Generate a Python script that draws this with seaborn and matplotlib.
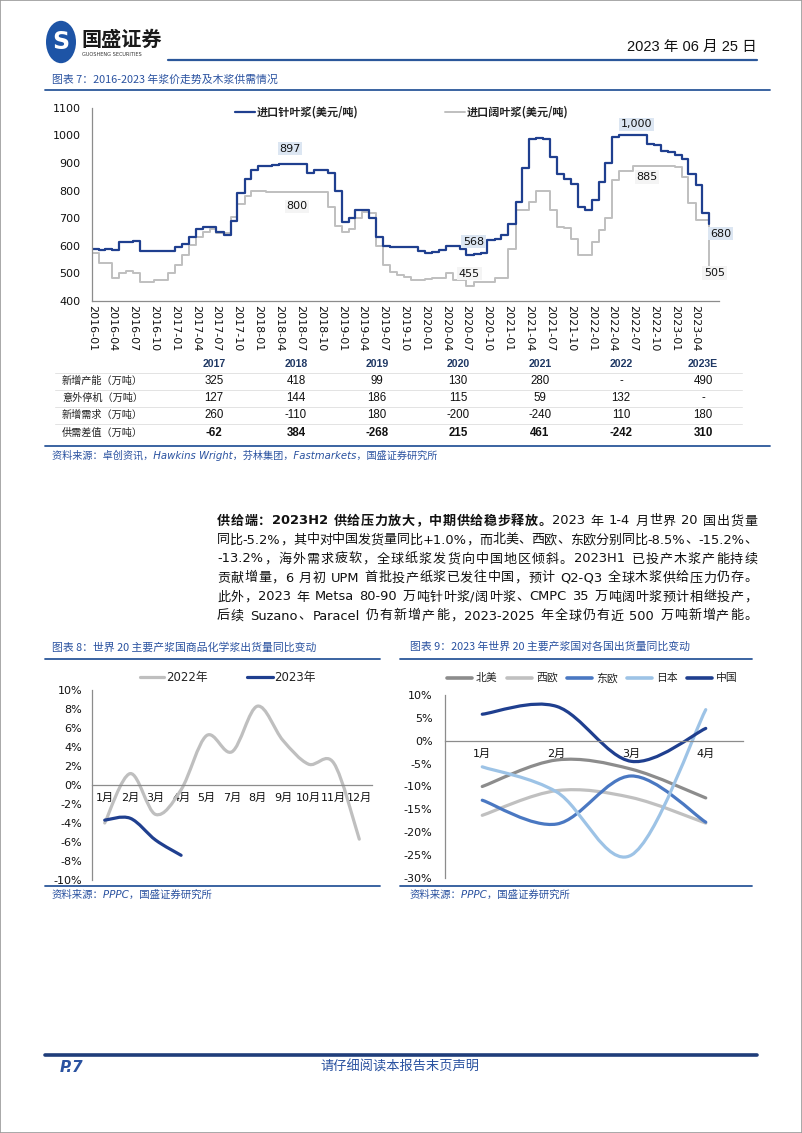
import numpy as np
import pandas as pd
import matplotlib
matplotlib.use("Agg")
import matplotlib.pyplot as plt
import seaborn as sns
from matplotlib.path import Path
from matplotlib.patches import PathPatch, Circle, Rectangle
from matplotlib.lines import Line2D

# ---------------- data ----------------
months = pd.date_range("2016-01-01", periods=90, freq="MS")
softwood = [590, 585, 587, 585, 612, 615, 618, 580, 580, 580, 580, 580,
            596, 605, 630, 660, 668, 668, 650, 640, 690, 790, 840, 875,
            888, 890, 893, 897, 897, 897, 897, 862, 874, 874, 862, 800,
            687, 700, 730, 730, 700, 630, 600, 596, 596, 596, 596, 580,
            575, 577, 584, 598, 600, 590, 568, 569, 575, 620, 626, 638,
            680, 760, 880, 985, 990, 985, 920, 860, 840, 825, 740, 730,
            765, 830, 900, 995, 1000, 1000, 1000, 1000, 970, 965, 945, 940,
            928, 915, 860, 820, 720, 680]
hardwood = [575, 537, 537, 482, 500, 508, 500, 470, 470, 475, 475, 500,
            530, 566, 602, 632, 650, 662, 648, 645, 705, 750, 780, 800,
            800, 793, 793, 793, 793, 793, 793, 793, 793, 793, 740, 670,
            651, 660, 700, 723, 720, 600, 530, 505, 495, 488, 476, 476,
            478, 482, 482, 500, 476, 476, 455, 468, 470, 470, 482, 485,
            590, 729, 729, 760, 799, 799, 730, 669, 663, 626, 566, 566,
            614, 657, 699, 838, 869, 870, 890, 890, 890, 890, 890, 890,
            885, 850, 754, 693, 693, 505]
series7_names = ["进口针叶浆(美元/吨)", "进口阔叶浆(美元/吨)"]
quarter_ticks = pd.date_range("2016-01-01", "2023-04-01", freq="QS")
# (series, month index, label text, offset px (dx, dy up))
ann7 = [("soft", 27, "897", (11, 15)), ("hard", 29, "800", (4, -14)),
        ("soft", 54, "568", (7, 13)), ("hard", 54, "455", (3, 12)),
        ("soft", 76, "1,000", (17, 11)), ("hard", 84, "885", (-28, -10)),
        ("soft", 89, "680", (11, -10)), ("hard", 89, "505", (5, -1))]

table_years = ["2017", "2018", "2019", "2020", "2021", "2022", "2023E"]
table_rows = ["新增产能（万吨）", "意外停机（万吨）", "新增需求（万吨）", "供需差值（万吨）"]
new_capacity = ["325", "418", "99", "130", "280", "-", "490"]
downtime = ["127", "144", "186", "115", "59", "132", "-"]
new_demand = ["260", "-110", "180", "-200", "-240", "110", "180"]
supply_gap = ["-62", "384", "-268", "215", "461", "-242", "310"]

cats8 = ["1月", "2月", "3月", "4月", "5月", "7月", "8月", "9月", "10月", "11月", "12月"]
y2022 = [-4.0, 1.2, -3.1, -0.5, 5.2, 3.5, 8.3, 4.7, 2.2, 2.3, -5.7]
y2023 = [-3.7, -3.5, -5.8, -7.4]

cats9 = ["1月", "2月", "3月", "4月"]
na = [-10.0, -4.2, -6.2, -12.5]
we = [-16.3, -10.9, -12.4, -18.0]
ee = [-13.0, -18.2, -7.7, -17.8]
jp = [-5.7, -11.2, -25.0, 6.8]
cn = [5.8, 7.5, -4.5, 2.7]
names9 = ["北美", "西欧", "东欧", "日本", "中国"]

para = [
    [("供给端：2023H2 供给压力放大，中期供给稳步释放。", True), ("2023 年 1-4 月世界 20 国出货量", False)],
    [("同比-5.2%，其中对中国发货量同比+1.0%，而北美、西欧、东欧分别同比-8.5%、-15.2%、", False)],
    [("-13.2%，海外需求疲软，全球纸浆发货向中国地区倾斜。2023H1 已投产木浆产能持续", False)],
    [("贡献增量，6 月初 UPM 首批投产纸浆已发往中国，预计 Q2-Q3 全球木浆供给压力仍存。", False)],
    [("此外，2023 年 Metsa 80-90 万吨针叶浆/阔叶浆、CMPC 35 万吨阔叶浆预计相继投产，", False)],
    [("后续 Suzano、Paracel 仍有新增产能，2023-2025 年全球仍有近 500 万吨新增产能。", False)],
]

# ---------------- style ----------------
sns.set_style("white")
FAM = ["DejaVu Sans", "Noto Sans CJK SC"]
CJK = ["Noto Sans CJK SC", "DejaVu Sans"]
NARROW = ["Liberation Sans Narrow", "Liberation Sans", "Noto Sans CJK SC"]
plt.rcParams["font.family"] = FAM
plt.rcParams["axes.unicode_minus"] = False

BLUE = "#1F3F8F"
GRAY7 = "#BFBFBF"
TBLUE = "#2A52A0"
LBLUE = "#2B579A"
AXC = "#8C8C8C"
c9 = ["#8C8C8C", "#C0C0C0", "#4A78C2", "#9DC3E6", "#1F3F8F"]

W, H = 802, 1133
fig = plt.figure(figsize=(W / 100, H / 100), dpi=100)
fig.patch.set_facecolor("white")


def rect(x0, y0, x1, y1):
    return [x0 / W, 1 - y1 / H, (x1 - x0) / W, (y1 - y0) / H]


def hline(x0, x1, y, color=LBLUE, lw=1.2):
    fig.add_artist(Line2D([x0 / W, x1 / W], [1 - y / H, 1 - y / H], color=color,
                          lw=lw, transform=fig.transFigure))


def ftext(x, y, s, **kw):
    kw.setdefault("va", "center")
    return fig.text(x / W, 1 - y / H, s, **kw)


def legend_item(x, y, label, color, lw, size, length=25, gap=3, family=FAM, weight="normal"):
    fig.add_artist(Line2D([x / W, (x + length) / W], [1 - y / H, 1 - y / H],
                          color=color, lw=lw, transform=fig.transFigure))
    ftext(x + length + gap, y, label, fontsize=size, family=family, weight=weight, color="#222222")


# page border
fig.add_artist(Rectangle((0, 0), 1, 1, transform=fig.transFigure, fill=False,
                         edgecolor="#9A9A9A", lw=1.2))

# ---------------- header ----------------
fig.add_artist(Circle((61 / W, 1 - 42 / H), 15 / W, transform=fig.transFigure,
                      facecolor="#1D54A6", edgecolor="none"))
ftext(61, 42, "S", fontsize=17, weight="bold", color="white", ha="center")
ftext(81, 39, "国盛证券", fontsize=14.5, weight="bold", family=CJK, color="#1a1a1a")
ftext(82, 54, "GUOSHENG SECURITIES", fontsize=3.6, color="#333333")
ftext(757, 47, "2023 年 06 月 25 日", fontsize=10.5, family=NARROW, ha="right", color="#111111")
hline(168, 757, 60, LBLUE, 1.6)

ftext(52, 80, "图表 7：2016-2023 年浆价走势及木浆供需情况", fontsize=7.8, family=CJK,
      color=TBLUE, style="italic")
hline(45, 770, 90, LBLUE, 1.3)

# ---------------- chart 7 ----------------
ax7 = fig.add_axes(rect(91.7, 107.7, 719, 301))
df7 = pd.DataFrame({"date": months, "soft": softwood, "hard": hardwood})
sns.lineplot(data=df7, x="date", y="hard", ax=ax7, color=GRAY7, lw=1.4,
             drawstyle="steps-post", estimator=None, legend=False)
sns.lineplot(data=df7, x="date", y="soft", ax=ax7, color=BLUE, lw=1.6,
             drawstyle="steps-post", estimator=None, legend=False)
ax7.set_ylim(400, 1100)
ax7.set_xlim(pd.Timestamp("2016-01-01"), pd.Timestamp("2023-07-13"))
ax7.set_yticks(range(400, 1101, 100))
ax7.set_yticklabels([str(v) for v in range(400, 1101, 100)])
ax7.set_xticks(quarter_ticks)
ax7.set_xticklabels([d.strftime("%Y-%m") for d in quarter_ticks], rotation=-90,
                    ha="center", va="top")
ax7.tick_params(axis="y", direction="in", length=3, pad=8, labelsize=8, colors=AXC,
                labelcolor="#111111")
ax7.tick_params(axis="x", direction="in", length=4, pad=3, labelsize=8, colors=AXC,
                labelcolor="#111111")
for s in ["top", "right"]:
    ax7.spines[s].set_visible(False)
for s in ["left", "bottom"]:
    ax7.spines[s].set_color(AXC)
    ax7.spines[s].set_linewidth(0.9)
ax7.set_xlabel("")
ax7.set_ylabel("")
ax7.set_facecolor("white")
for ser, i, txt, (dx, dy) in ann7:
    vals = softwood if ser == "soft" else hardwood
    bg = "#DCE6F2" if ser == "soft" else "#F4F4F4"
    ax7.annotate(txt, xy=(months[i], vals[i]), xytext=(dx, dy), textcoords="offset pixels",
                 ha="center", va="center", fontsize=8, color="#111111",
                 bbox=dict(boxstyle="square,pad=0.15", facecolor=bg, edgecolor="none"))

legend_item(235, 112, series7_names[0], BLUE, 1.6, 8, length=20, gap=2, family=CJK, weight="bold")
legend_item(445, 112, series7_names[1], GRAY7, 1.4, 8, length=20, gap=2, family=CJK, weight="bold")

# ---------------- table ----------------
col_x = [214, 296, 377, 458, 540, 621, 703]
row_y = [381, 398, 415, 433]
for x, yr in zip(col_x, table_years):
    ftext(x, 364, yr, fontsize=7.6, weight="bold", family=["Liberation Sans", "DejaVu Sans"],
          color="#1F3864", ha="center")
rows_vals = [new_capacity, downtime, new_demand, supply_gap]
for r, (lab, vals, y) in enumerate(zip(table_rows, rows_vals, row_y)):
    bold = (r == 3)
    ftext(62, y, lab, fontsize=7.3, family=CJK, color="#222222")
    for x, v in zip(col_x, vals):
        ftext(x, y, v, fontsize=8.3, family=NARROW, color="#111111", ha="center",
              weight="bold" if bold else "normal")
for y in [372.5, 389.5, 406.5, 424]:
    hline(55, 742, y, "#E3E3E3", 0.7)

hline(45, 770, 446, LBLUE, 1.3)
ftext(52, 455, "资料来源：卓创资讯，Hawkins Wright，芬林集团，Fastmarkets，国盛证券研究所",
      fontsize=7.3, family=FAM, color=TBLUE, style="italic")

# ---------------- paragraph ----------------
renderer = fig.canvas.get_renderer()
_cache = {}


def _ext(s, bold, size):
    key = (s, bold, size)
    if key not in _cache:
        t = fig.text(0, 0, s, fontsize=size, family=FAM, weight="bold" if bold else "normal")
        _cache[key] = t.get_window_extent(renderer).width
        t.remove()
    return _cache[key]


def adv(tok, bold, size):
    return _ext("中" + tok + "中", bold, size) - _ext("中中", bold, size)


def justified(x0, x1, y, segments, size):
    toks = []
    for s, b in segments:
        buf = ""
        for ch in s:
            if ch.isascii() and ch != " ":
                buf += ch
            else:
                if buf:
                    toks.append((buf, b))
                    buf = ""
                toks.append((ch, b))
        if buf:
            toks.append((buf, b))
    widths = [adv(t, b, size) for t, b in toks]
    gap = ((x1 - x0) - sum(widths)) / max(len(toks) - 1, 1)
    x = x0
    for (t, b), w in zip(toks, widths):
        if t != " ":
            ftext(x, y, t, fontsize=size, family=FAM, weight="bold" if b else "normal",
                  color="#111111", ha="left")
        x += w + gap


for k, segs in enumerate(para):
    justified(217, 757, 521 + k * 19, segs, 9.4)

# ---------------- chart 8 / 9 helpers ----------------


def bezier_path(xy):
    pts = np.asarray(xy, dtype=float)
    n = len(pts)
    verts = [pts[0]]
    codes = [Path.MOVETO]
    for i in range(n - 1):
        p0 = pts[i - 1] if i > 0 else pts[i]
        p1, p2 = pts[i], pts[i + 1]
        p3 = pts[i + 2] if i + 2 < n else pts[i + 1]
        verts += [p1 + (p2 - p0) / 6.0, p2 - (p3 - p1) / 6.0, p2]
        codes += [Path.CURVE4] * 3
    return Path(verts, codes)


def smooth_lines(ax, lw):
    for ln in list(ax.get_lines()):
        xy = ln.get_xydata()
        ax.add_patch(PathPatch(bezier_path(xy), fill=False, edgecolor=ln.get_color(), lw=lw,
                               capstyle="round", joinstyle="round", zorder=ln.get_zorder()))
        ln.set_visible(False)


def style_cat_axis(ax, ncat, ylim, yticks, pad_y, tick_len):
    ax.set_xlim(-0.5, ncat - 0.5)
    ax.set_ylim(*ylim)
    ax.set_yticks(yticks)
    ax.set_yticklabels([f"{v:.0f}%" for v in yticks])
    for s in ["top", "right"]:
        ax.spines[s].set_visible(False)
    ax.spines["bottom"].set_position(("data", 0))
    for s in ["left", "bottom"]:
        ax.spines[s].set_color(AXC)
        ax.spines[s].set_linewidth(0.9)
    ax.set_xticks(np.arange(-0.5, ncat, 1.0), minor=True)
    ax.tick_params(axis="x", which="major", length=0, pad=6, labelsize=8, labelcolor="#111111")
    ax.tick_params(axis="x", which="minor", direction="in", length=tick_len, color=AXC)
    ax.tick_params(axis="y", length=0, pad=pad_y, labelsize=8, labelcolor="#111111")
    ax.set_xlabel("")
    ax.set_ylabel("")


# ---------------- chart 8 ----------------
ftext(52, 647, "图表 8：世界 20 主要产浆国商品化学浆出货量同比变动", fontsize=7.8, family=CJK,
      color=TBLUE, style="italic")
hline(45, 380, 659, LBLUE, 1.3)
ax8 = fig.add_axes(rect(92, 690, 372, 880))
sns.lineplot(x=np.arange(len(y2022)), y=y2022, ax=ax8, color=GRAY7, estimator=None)
sns.lineplot(x=np.arange(len(y2023)), y=y2023, ax=ax8, color=BLUE, estimator=None)
style_cat_axis(ax8, len(cats8), (-10, 10), list(range(-10, 11, 2)), 7, 3)
ax8.set_xticks(np.arange(len(cats8)))
ax8.set_xticklabels(cats8, family=FAM)
smooth_lines(ax8, 2.3)
legend_item(140, 677, "2022年", GRAY7, 2.3, 8.5, length=24, gap=2)
legend_item(247, 677, "2023年", BLUE, 2.3, 8.5, length=26, gap=1)
hline(45, 380, 886, LBLUE, 1.3)
ftext(52, 895, "资料来源：PPPC，国盛证券研究所", fontsize=7.5, family=FAM, color=TBLUE, style="italic")

# ---------------- chart 9 ----------------
ftext(410, 647, "图表 9：2023 年世界 20 主要产浆国对各国出货量同比变动", fontsize=7.8, family=CJK,
      color=TBLUE, style="italic")
hline(400, 752, 659, LBLUE, 1.3)
ax9 = fig.add_axes(rect(445, 695, 743, 878))
for vals, col in zip([na, we, ee, jp, cn], c9):
    sns.lineplot(x=np.arange(len(vals)), y=vals, ax=ax9, color=col, estimator=None)
style_cat_axis(ax9, len(cats9), (-30, 10), list(range(-30, 11, 5)), 9, 5)
ax9.set_xticks(np.arange(len(cats9)))
ax9.set_xticklabels(cats9, family=FAM)
smooth_lines(ax9, 2.3)
for i, (nm, col) in enumerate(zip(names9, c9)):
    legend_item(447 + 60 * i, 678, nm, col, 2.6, 7.8, length=25, gap=4, family=CJK)
hline(400, 752, 886, LBLUE, 1.3)
ftext(410, 895, "资料来源：PPPC，国盛证券研究所", fontsize=7.5, family=FAM, color=TBLUE, style="italic")

# ---------------- footer ----------------
hline(45, 757, 1055, "#1F3D7A", 2.6)
ftext(60, 1067, "P.7", fontsize=11, weight="bold", style="italic", color=TBLUE)
ftext(400, 1067, "请仔细阅读本报告末页声明", fontsize=9.5, family=CJK, color=TBLUE,
      ha="center", style="italic")

fig.savefig("out.png", dpi=100, facecolor="white")
